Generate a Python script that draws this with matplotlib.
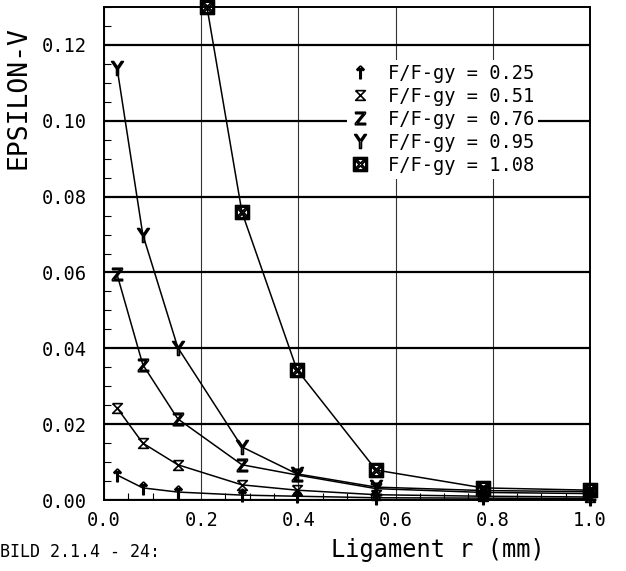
import matplotlib
matplotlib.use("Agg")
import matplotlib.pyplot as plt
from matplotlib.ticker import MultipleLocator, FuncFormatter

plt.rcParams['font.family'] = ['DejaVu Sans Mono', 'DejaVu Sans']

# ligament positions (mm)
r_main = [0.027, 0.08, 0.152, 0.284, 0.397, 0.56, 0.78, 1.0]
r_108 = [0.212, 0.284, 0.397, 0.56, 0.78, 1.0]

eps_025 = [0.0066, 0.0032, 0.0021, 0.0013, 0.0010, 0.0006, 0.0005, 0.0004]
eps_051 = [0.0243, 0.0150, 0.0093, 0.0040, 0.0026, 0.0014, 0.0010, 0.0008]
eps_076 = [0.0595, 0.0357, 0.0214, 0.0093, 0.0066, 0.0030, 0.0020, 0.0017]
eps_095 = [0.1140, 0.0700, 0.0402, 0.0140, 0.0069, 0.0034, 0.0025, 0.0022]
eps_108 = [0.1300, 0.0759, 0.0344, 0.0079, 0.0032, 0.0026]

labels = ['F/F-gy = 0.25', 'F/F-gy = 0.51', 'F/F-gy = 0.76',
          'F/F-gy = 0.95', 'F/F-gy = 1.08']

# hourglass-ish marker for the 0.51 curve
hourglass = [(-1, 1), (1, 1), (-1, -1), (1, -1), (-1, 1)]

fig = plt.figure(figsize=(6.26, 5.71), dpi=100)
ax = fig.add_axes([0.166, 0.1243, 0.7765, 0.8634])

series = [
    (r_main, eps_025, r'$\uparrow$', 9),
    (r_main, eps_051, hourglass, 7),
    (r_main, eps_076, r'$\mathrm{Z}$', 9),
    (r_main, eps_095, r'$\mathrm{Y}$', 10),
    (r_108, eps_108, r'$\boxtimes$', 10),
]
for (x, y, m, ms), lab in zip(series, labels):
    ax.plot(x, y, color='black', lw=1.1, marker=m, ms=ms,
            mfc='none', mec='black', mew=1.2, label=lab, clip_on=False)

ax.set_xlim(0, 1.0)
ax.set_ylim(0, 0.13)
ax.xaxis.set_major_locator(MultipleLocator(0.2))
ax.xaxis.set_minor_locator(MultipleLocator(0.05))
ax.yaxis.set_major_locator(MultipleLocator(0.02))
ax.yaxis.set_minor_locator(MultipleLocator(0.005))
ax.xaxis.set_major_formatter(FuncFormatter(lambda v, p: f'{v:.1f}'))
ax.yaxis.set_major_formatter(FuncFormatter(lambda v, p: f'{v:.2f}'))
ax.tick_params(which='both', direction='in', labelsize=13.5, colors='black')
ax.tick_params(which='major', length=0)
ax.tick_params(which='minor', length=5, width=0.8)
ax.tick_params(axis='y', which='major', pad=12)
ax.tick_params(axis='x', which='major', pad=8)

ax.grid(axis='y', which='major', color='black', lw=1.6)
ax.grid(axis='x', which='major', color='#333333', lw=0.8)
for s in ax.spines.values():
    s.set_linewidth(1.4)

leg = ax.legend(loc='upper left', bbox_to_anchor=(0.50, 0.893), frameon=True,
                fontsize=13.5, handlelength=1.0, handletextpad=1.0,
                labelspacing=0.22, borderpad=0.2, borderaxespad=0)
leg.get_frame().set_edgecolor('none')
leg.get_frame().set_facecolor('white')
leg.get_frame().set_alpha(1.0)
for h in leg.legend_handles:
    h.set_linestyle('none')

fig.text(0.03, 0.83, 'EPSILON-V', rotation=90, fontsize=19, ha='center', va='center')
fig.text(0.70, 0.036, 'Ligament r (mm)', fontsize=17, ha='center', va='center')
fig.text(0.0, 0.034, 'BILD 2.1.4 - 24:', fontsize=12, ha='left', va='center')

fig.savefig('out.png', dpi=100, facecolor='white')
